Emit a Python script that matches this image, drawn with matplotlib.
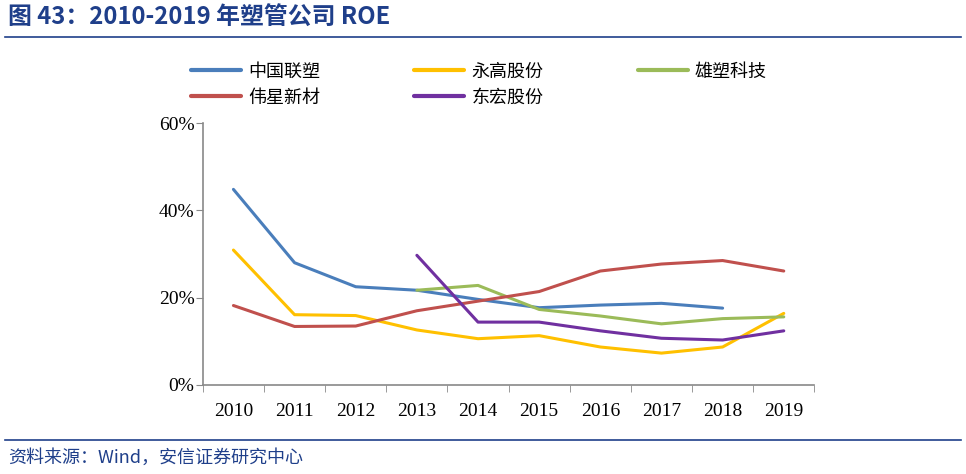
import numpy as np
import matplotlib
matplotlib.use("Agg")
import matplotlib.pyplot as plt
from matplotlib.lines import Line2D

plt.rcParams['font.family'] = ['Noto Sans CJK SC', 'DejaVu Sans']

years = ['2010', '2011', '2012', '2013', '2014', '2015', '2016', '2017', '2018', '2019']
nan = np.nan
liansu = [44.8, 28.0, 22.5, 21.7, 19.6, 17.7, 18.3, 18.7, 17.6, nan]
yonggao = [30.9, 16.1, 15.9, 12.6, 10.6, 11.3, 8.7, 7.3, 8.7, 16.4]
xiongsu = [nan, nan, nan, 21.7, 22.8, 17.3, 15.8, 14.0, 15.2, 15.6]
weixing = [18.2, 13.4, 13.5, 17.0, 19.2, 21.4, 26.1, 27.7, 28.5, 26.1]
donghong = [nan, nan, nan, 29.7, 14.4, 14.4, 12.4, 10.7, 10.3, 12.4]
yticks = [0, 20, 40, 60]

series = [
    ('中国联塑', liansu, '#4a7ebb'),
    ('永高股份', yonggao, '#ffc000'),
    ('雄塑科技', xiongsu, '#9bbb59'),
    ('伟星新材', weixing, '#c0504d'),
    ('东宏股份', donghong, '#7030a0'),
]

fig = plt.figure(figsize=(9.66, 4.74), dpi=100)
ax = fig.add_axes([0.210, 0.1878, 0.633, 0.5527])

x = np.arange(len(years))
handles = {}
for name, vals, col in series:
    h, = ax.plot(x, np.array(vals, dtype=float), color=col, lw=2.2, label=name,
                 solid_joinstyle='round', solid_capstyle='round')
    handles[name] = h

ax.set_xlim(-0.5, len(years) - 0.5)
ax.set_ylim(0, 60)
ax.set_yticks(yticks)
ax.set_yticklabels([f'{v}%' for v in yticks], family='Liberation Serif', fontsize=14)
ax.set_xticks(x)
ax.set_xticklabels(years, family='Liberation Serif', fontsize=14)
ax.set_xticks(np.arange(-0.5, len(years) + 0.5, 1), minor=True)
ax.tick_params(axis='x', which='major', length=0, pad=13)
ax.tick_params(axis='x', which='minor', length=5, color='#898989', direction='out')
ax.tick_params(axis='y', length=5, color='#898989', direction='out', pad=1)
for s in ['top', 'right']:
    ax.spines[s].set_visible(False)
for s in ['left', 'bottom']:
    ax.spines[s].set_color('#898989')
    ax.spines[s].set_linewidth(1.2)

order = ['中国联塑', '伟星新材', '永高股份', '东宏股份', '雄塑科技']
leg = fig.legend([handles[n] for n in order], order, ncol=3, loc='upper left',
                 bbox_to_anchor=(0.198, 0.868), frameon=False,
                 prop={'family': 'Noto Sans CJK SC', 'size': 13},
                 handlelength=2.77, handletextpad=0.4, columnspacing=5.2,
                 labelspacing=0.45, borderpad=0, borderaxespad=0)
for lh in leg.get_lines():
    lh.set_linewidth(3)

# title and decorations
fig.text(0.008, 0.962, '图 43：2010-2019 年塑管公司 ROE', fontsize=17.2, fontweight='bold',
         color='#1f3f8a', va='center', ha='left')
fig.add_artist(Line2D([0.005, 0.995], [0.921, 0.921], color='#1f3f8a', lw=1.2))
fig.add_artist(Line2D([0.005, 0.995], [0.072, 0.072], color='#1f3f8a', lw=1.2))
fig.text(0.008, 0.034, '资料来源：Wind，安信证券研究中心', fontsize=13, style='italic',
         color='#1f3f8a', va='center', ha='left')

fig.savefig('out.png', dpi=100)
